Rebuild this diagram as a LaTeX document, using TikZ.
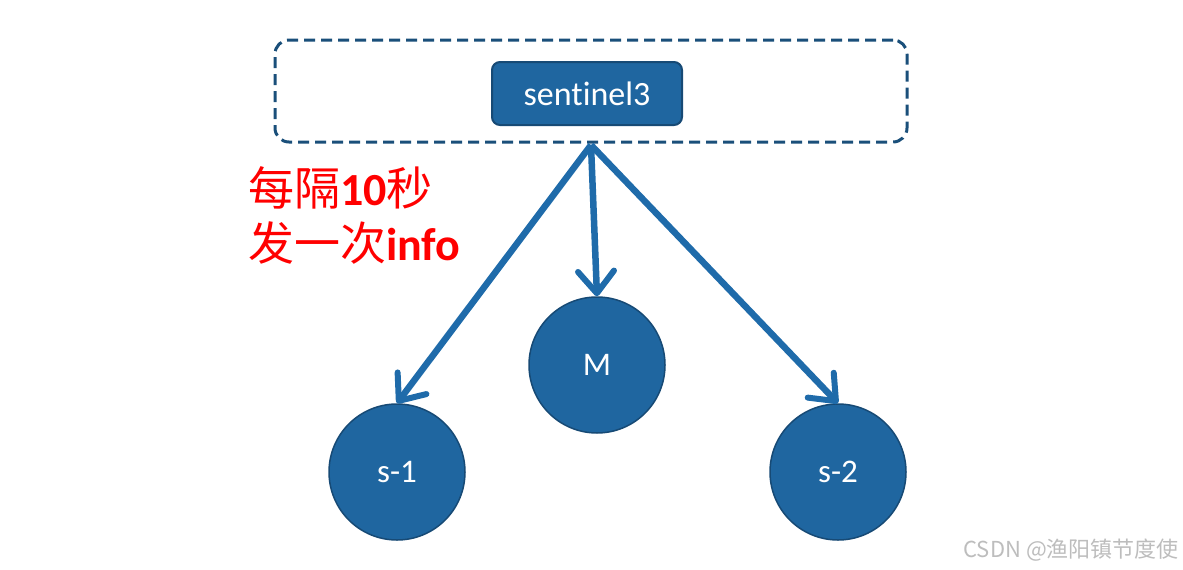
\documentclass[tikz,border=0pt]{standalone}
\usepackage{fontspec}
\setmainfont{Carlito}[Ligatures=NoCommon]
\newfontfamily\cjk{Noto Sans CJK SC}
\usetikzlibrary{arrows.meta}
\definecolor{nodefill}{HTML}{1F66A0}
\definecolor{nodeedge}{HTML}{174A75}
\definecolor{arrowc}{HTML}{1F6BAA}
\definecolor{dashc}{HTML}{1A4F7A}
\definecolor{wmark}{HTML}{BDBDBD}
\tikzset{
  circnode/.style={circle, fill=nodefill, draw=nodeedge, line width=1.5pt, minimum size=136pt, inner sep=0pt, text=white, font=\fontsize{33}{38}\selectfont},
  sentbox/.style={rectangle, rounded corners=8pt, fill=nodefill, draw=nodeedge, line width=2pt, minimum width=190pt, minimum height=63pt, text=white, font=\fontsize{34}{40}\selectfont},
  groupbox/.style={rectangle, rounded corners=14pt, draw=dashc, line width=3pt, dash pattern=on 11pt off 6pt, minimum width=632pt, minimum height=102pt},
  sendarrow/.style={arrowc, line width=6.5pt, -{Straight Barb[length=22pt, width=36pt, line width=6pt, round]}},
}
\begin{document}
\begin{tikzpicture}[x=1pt, y=-1pt]
\useasboundingbox (0,0) rectangle (1183,570);
\node[groupbox] (group) at (591,91) {};
\node[sentbox] (sent) at (587,93.5) {sentinel3};
\coordinate (src) at (591,145);
\node[circnode] (M) at (597,365) {M};
\node[circnode] (s1) at (397,472) {s-1};
\node[circnode] (s2) at (838,472) {s-2};
\draw[sendarrow] (src) -- (M.north);
\draw[sendarrow] (src) -- (s1.north);
\draw[sendarrow] (src) -- (s2.north);
\node[anchor=west, align=left, text=red, inner sep=0pt, font=\fontsize{46}{55}\selectfont\cjk] (info) at (248,215)
  {每隔\textbf{\rmfamily 10}秒\\
   发一次\textbf{\rmfamily info}};
\node[anchor=east, text=wmark, inner sep=0pt, font=\fontsize{22}{26}\selectfont\cjk] (wm) at (1179,550) {CSDN @渔阳镇节度使};
\end{tikzpicture}
\end{document}
